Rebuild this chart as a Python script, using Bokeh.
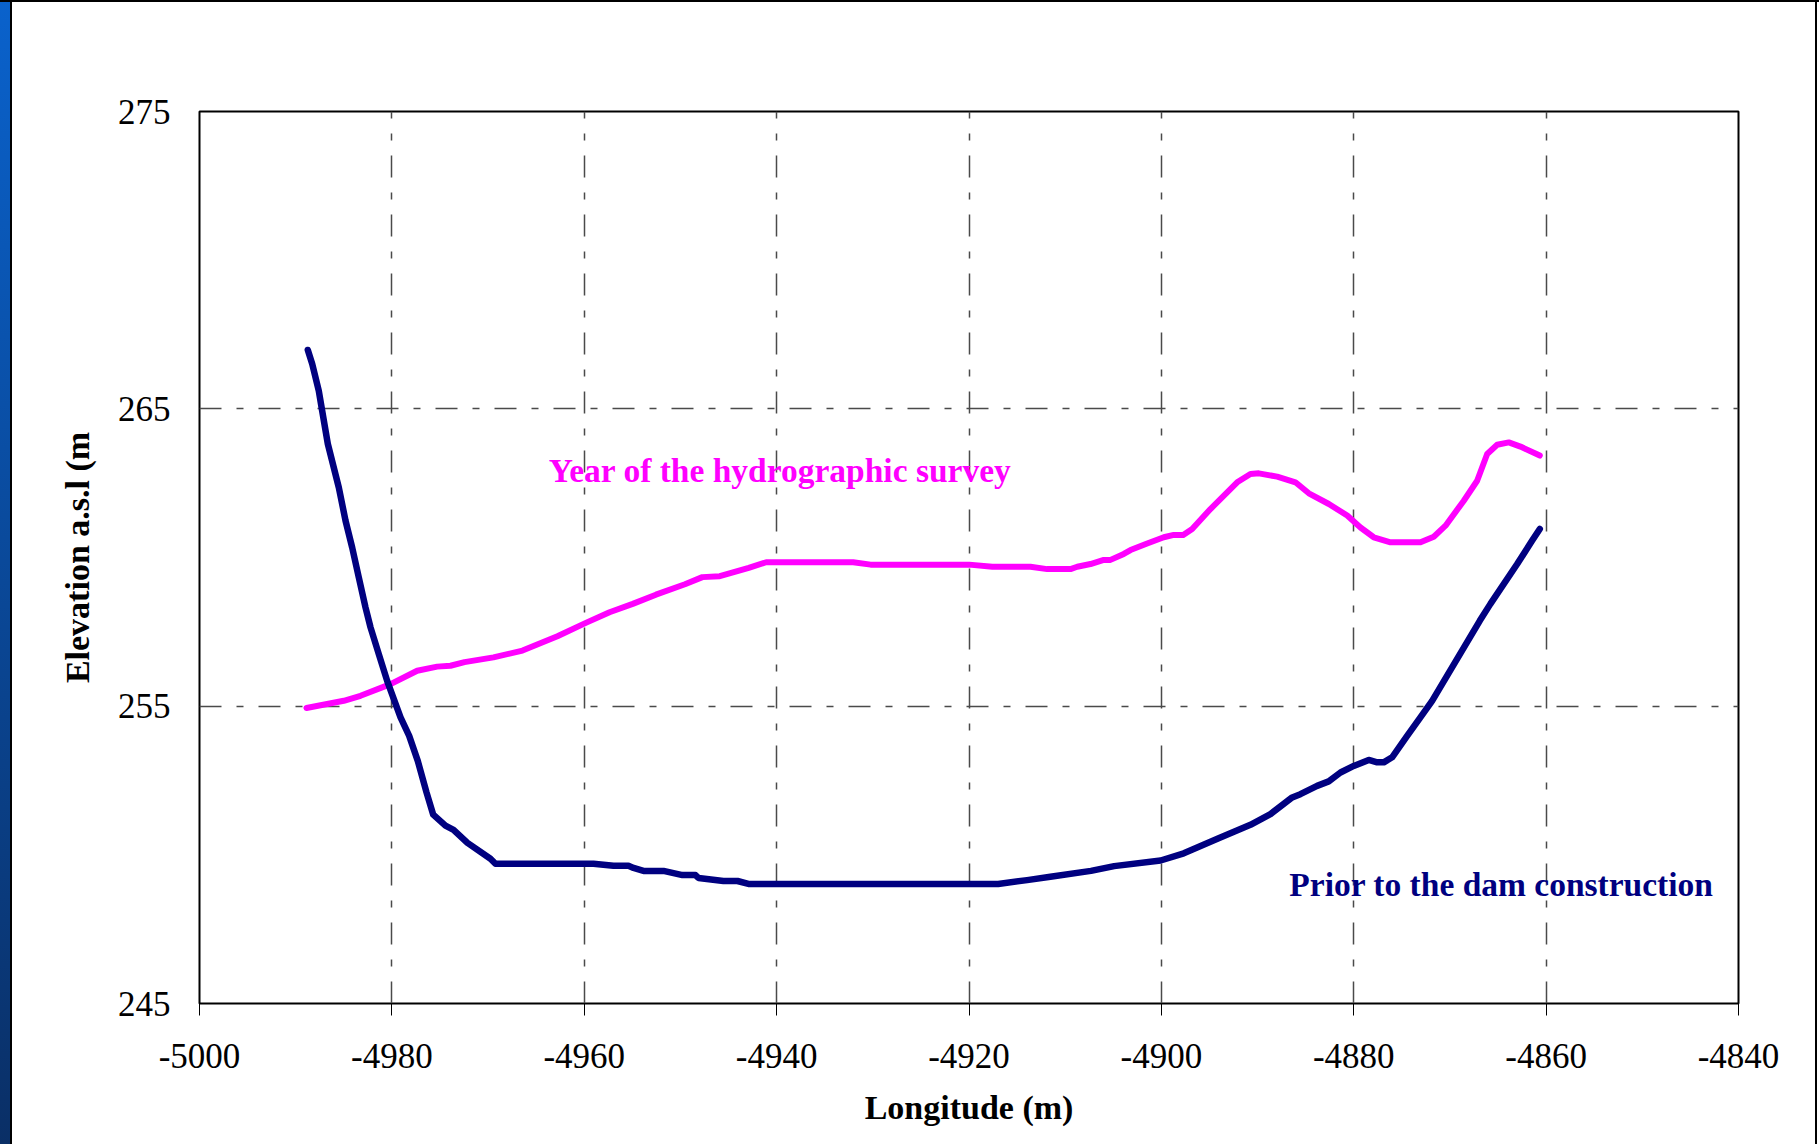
from bokeh.plotting import figure
from bokeh.models import Range1d, FixedTicker, Label, PrintfTickFormatter
from bokeh.embed import file_html
from bokeh.resources import INLINE

# ---- data ----
prior_x = [-4988.74, -4988.28, -4987.60, -4987.25, -4986.66, -4985.52, -4984.82, -4984.13,
           -4983.44, -4982.74, -4982.22, -4981.36, -4980.49, -4979.10, -4978.2, -4977.3,
           -4976.4, -4975.7, -4974.43, -4973.59, -4972.14, -4969.75, -4969.23, -4959.04, -4956.96,
           -4955.40, -4954.88, -4953.84, -4951.76, -4949.79, -4948.44, -4948.12, -4945.53,
           -4944.07, -4942.93, -4916.97, -4913.96, -4911.54, -4907.32, -4904.91, -4900.08,
           -4897.67, -4894.05, -4890.74, -4888.66, -4886.40, -4885.55, -4883.81, -4882.60,
           -4881.38, -4880.00, -4878.44, -4877.57, -4876.88, -4876.01, -4874.45, -4873.07,
           -4871.85, -4866.90, -4865.79, -4863.01, -4861.45, -4860.66]
prior_y = [266.98, 266.51, 265.61, 264.94, 263.82, 262.36, 261.24, 260.34,
           259.33, 258.32, 257.65, 256.75, 255.85, 254.62, 254.0, 253.15,
           252.1, 251.35, 250.98, 250.84, 250.40, 249.87, 249.70, 249.70, 249.63,
           249.63, 249.56, 249.46, 249.46, 249.32, 249.32, 249.22, 249.12,
           249.12, 249.02, 249.02, 249.15, 249.26, 249.46, 249.62, 249.81,
           250.05, 250.56, 251.01, 251.37, 251.93, 252.04, 252.32, 252.47,
           252.77, 252.99, 253.19, 253.11, 253.11, 253.28, 254.00, 254.62,
           255.18, 257.87, 258.44, 259.78, 260.57, 260.96]

survey_x = [-4988.88, -4985.0, -4983.26, -4980.14, -4977.37, -4975.29, -4973.91, -4972.45,
            -4969.44, -4966.42, -4962.79, -4959.78, -4957.37, -4954.96, -4952.55, -4949.53,
            -4947.72, -4945.91, -4942.90, -4941.09, -4932.04, -4930.23, -4919.98, -4917.57,
            -4916.73, -4913.61, -4911.87, -4909.45, -4908.75, -4907.37, -4905.99, -4905.29,
            -4903.91, -4903.21, -4901.48, -4899.75, -4898.71, -4897.73, -4896.80, -4894.90,
            -4892.12, -4890.74, -4889.87, -4887.96, -4886.06, -4884.67, -4882.59, -4880.68,
            -4879.30, -4877.92, -4876.18, -4873.06, -4871.68, -4870.46, -4868.56, -4867.17,
            -4866.13, -4865.09, -4863.88, -4862.67, -4860.66]
survey_y = [254.94, 255.18, 255.35, 255.74, 256.19, 256.33, 256.36, 256.48,
            256.64, 256.87, 257.35, 257.81, 258.16, 258.44, 258.75, 259.10,
            259.34, 259.37, 259.65, 259.84, 259.84, 259.76, 259.76, 259.69,
            259.69, 259.69, 259.61, 259.61, 259.69, 259.78, 259.92, 259.92,
            260.12, 260.25, 260.47, 260.68, 260.76, 260.76, 260.96, 261.63,
            262.53, 262.81, 262.83, 262.72, 262.53, 262.16, 261.80, 261.41,
            261.01, 260.68, 260.51, 260.51, 260.70, 261.07, 261.91, 262.58,
            263.48, 263.79, 263.87, 263.73, 263.43]

x_ticks = [-5000, -4980, -4960, -4940, -4920, -4900, -4880, -4860, -4840]
y_ticks = [245, 255, 265, 275]

label_survey = "Year of the hydrographic survey"
label_prior = "Prior to the dam construction"
x_title = "Longitude (m)"
y_title = "Elevation a.s.l (m"

# ---- figure ----
W, H = 1819, 1144
FL, FT, FR, FB = 199, 111, 1738, 1003
p = figure(width=W, height=H, output_backend="svg", toolbar_location=None,
           x_range=Range1d(-5000, -4840), y_range=Range1d(245, 275),
           min_border_left=FL, min_border_right=W - FR,
           min_border_top=FT, min_border_bottom=H - FB,
           background_fill_color="white", border_fill_color=None,
           outline_line_color="black", outline_line_width=2)

p.styles = {
    "background-image": "linear-gradient(#000, #000), linear-gradient(#000, #000), "
                        "linear-gradient(#000, #000), linear-gradient(to bottom, #0a62cc, #0a2f66)",
    "background-size": "100% 2px, 2px 100%, 2px 100%, 10px 100%",
    "background-position": "0 0, 1815px 0, 10px 0, 0 0",
    "background-repeat": "no-repeat",
    "background-color": "white",
}

font = "Liberation Serif"

p.xaxis.ticker = FixedTicker(ticks=x_ticks)
p.yaxis.ticker = FixedTicker(ticks=y_ticks)
p.xaxis.formatter = PrintfTickFormatter(format="%d")
p.yaxis.formatter = PrintfTickFormatter(format="%d")
for ax in (p.xaxis, p.yaxis):
    ax.axis_line_color = None
    ax.minor_tick_line_color = None
    ax.major_label_text_font = font
    ax.major_label_text_font_size = "35px"
    ax.major_label_text_color = "black"
    ax.axis_label_text_font = font
    ax.axis_label_text_font_size = "34px"
    ax.axis_label_text_font_style = "bold"
    ax.axis_label_text_color = "black"

p.xaxis.major_tick_out = 12
p.xaxis.major_tick_in = 0
p.xaxis.major_tick_line_color = "black"
p.xaxis.major_tick_line_width = 1
p.xaxis.major_label_standoff = 28
p.xaxis.axis_label = x_title
p.xaxis.axis_label_standoff = 18

p.yaxis.major_tick_out = 0
p.yaxis.major_tick_in = 0
p.yaxis.major_tick_line_color = None
p.yaxis.major_label_standoff = 29
p.yaxis.axis_label = y_title
p.yaxis.axis_label_standoff = 19

for g in (p.xgrid, p.ygrid):
    g.grid_line_color = "#4a4a4a"
    g.grid_line_width = 1.5
    g.grid_line_dash = "22 15 7 15"

p.line(survey_x, survey_y, line_color="#FF00FF", line_width=6,
       line_join="round", line_cap="round")
p.line(prior_x, prior_y, line_color="#000080", line_width=6.5,
       line_join="round", line_cap="round")

p.add_layout(Label(x=-4963.7, y=262.92, text=label_survey, text_font=font,
                   text_font_size="33.5px", text_font_style="bold", text_color="#FF00FF",
                   text_align="left", text_baseline="middle"))
p.add_layout(Label(x=-4886.7, y=248.99, text=label_prior, text_font=font,
                   text_font_size="33.5px", text_font_style="bold", text_color="#000080",
                   text_align="left", text_baseline="middle"))

open("out.html", "w").write(file_html(p, INLINE))
